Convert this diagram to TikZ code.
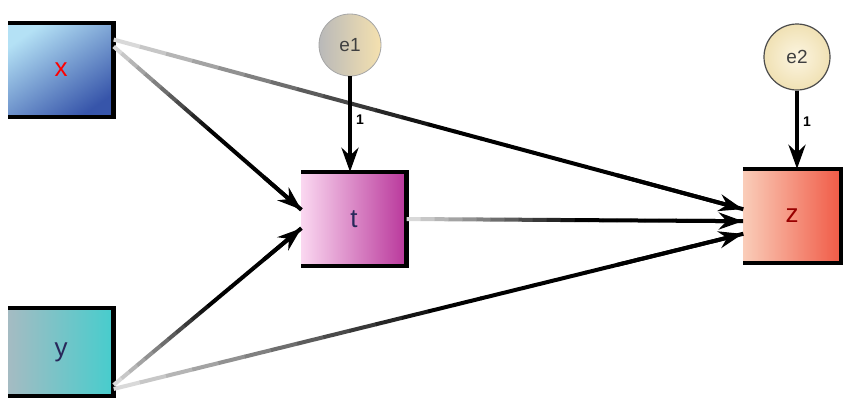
\documentclass[tikz,border=0pt]{standalone}
\usepackage{fontspec}
\setmainfont{Liberation Sans}
\usetikzlibrary{calc,arrows.meta}
\definecolor{xlight}{RGB}{180,225,245}
\definecolor{xdark}{RGB}{55,85,170}
\definecolor{ylight}{RGB}{205,180,190}
\definecolor{ydark}{RGB}{70,205,205}
\definecolor{tlight}{RGB}{250,215,240}
\definecolor{tdark}{RGB}{185,55,155}
\definecolor{zlight}{RGB}{250,205,185}
\definecolor{zdark}{RGB}{240,90,70}
\definecolor{e1l}{RGB}{185,185,185}
\definecolor{e1r}{RGB}{245,225,175}
\definecolor{e2l}{RGB}{252,245,225}
\definecolor{e2r}{RGB}{240,225,180}
\definecolor{navy}{RGB}{40,40,90}
\tikzset{
  varbox/.style={rectangle, inner sep=0pt, minimum width=105pt, minimum height=94pt, font=\fontsize{26}{26}\selectfont},
  errcirc/.style={circle, inner sep=0pt, minimum size=62pt, draw=gray!70, line width=0.8pt, font=\fontsize{19}{19}\selectfont, text=black!75},
  edgebar/.style={line width=4.5pt, draw=black},
  onelab/.style={font=\bfseries\fontsize{14}{14}\selectfont, inner sep=1pt},
  headtip/.style={-{Stealth[length=24pt,width=17pt]}, line width=4pt, draw=black}
}
\newcommand{\gline}[2]{%
  \foreach \i in {0,...,23}{%
    \pgfmathtruncatemacro\k{min(100,15+170*\i/24)}%
    \draw[line width=4pt, draw=black!\k] ($(#1)!{\i/24}!(#2)$) -- ($(#1)!{(\i+1.02)/24}!(#2)$);
  }%
  \draw[headtip] ($(#1)!0.8!(#2)$) -- (#2);
}
\begin{document}
\begin{tikzpicture}[x=1pt,y=-1pt]
\useasboundingbox[fill=white] (0,0) rectangle (843,400);
% boxes
\node[varbox, top color=xlight, bottom color=xdark, shading angle=35, text=red] (x) at (61,70) {x};
\node[varbox, left color=ylight!70!ydark, right color=ydark, text=navy, minimum height=88pt] (y) at (61,352) {y};
\node[varbox, left color=tlight, right color=tdark, text=navy] (t) at (354,219) {t};
\node[varbox, left color=zlight, right color=zdark, text=red!60!black, minimum width=98pt] (z) at (792,216) {z};
% edges of boxes
\foreach \b in {x,y,t,z}{
  \draw[edgebar] (\b.north west) -- (\b.north east) -- (\b.south east) -- (\b.south west);
}
% error terms
\node[errcirc, left color=e1l, right color=e1r] (e1) at (350,45) {e1};
\node[errcirc, inner color=e2l, outer color=e2r, draw=black!70, line width=1.2pt, minimum size=66pt] (e2) at (797,57) {e2};
% connectors
\gline{x.30}{z.172}
\gline{x.24}{t.170}
\gline{t.east}{z.186}
\gline{y.328}{t.190}
\gline{y.325}{z.200}
\draw[headtip] (e1.south) -- (e1.south |- t.north);
\draw[headtip] (e2.south) -- (e2.south |- z.north);
\coordinate (c1) at ($(e1.south)!0.45!(e1.south |- t.north)$);
\coordinate (c2) at ($(e2.south)!0.4!(e2.south |- z.north)$);
\node[onelab, anchor=west] (l1) at ($(c1)+(5,0)$) {1};
\node[onelab, anchor=west] (l2) at ($(c2)+(5,0)$) {1};
\end{tikzpicture}
\end{document}
